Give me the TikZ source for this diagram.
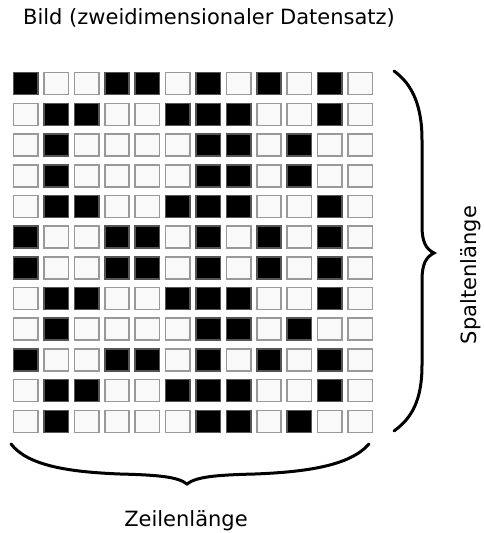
\documentclass[tikz,border=0pt]{standalone}
\usepackage{fontspec}
\setmainfont{DejaVu Sans}
\usepackage{xcolor}
\definecolor{pixeloff}{RGB}{249, 249, 249}
\definecolor{pixeloffline}{RGB}{153, 153, 153}
\definecolor{pixelonline}{RGB}{85, 85, 85}
\usepackage{tikz}
\usetikzlibrary{positioning, calc}

\begin{document}
\begin{tikzpicture}[x=1pt, y=-1pt,
    pixel/.style={rectangle, draw, line width=1.6pt, inner sep=0pt,
                  minimum width=24.4pt, minimum height=22pt, anchor=north west},
    pixel0/.style={pixel, fill=pixeloff, draw=pixeloffline},
    pixel1/.style={pixel, fill=black, draw=pixelonline},
    bracket/.style={line width=3pt, black, line cap=round},
    lbl/.style={font=\fontsize{21}{25}\selectfont, inner sep=0pt}]
    \useasboundingbox (0,0) rectangle (484,533);

    \node[lbl] (title) at (209,18) {Bild (zweidimensionaler Datensatz)};

    % 12 x 12 Bildpunkte, 1 = schwarz
    \foreach \zeile [count=\r] in {
        {1,0,0,1,1,0,1,0,1,0,1,0},
        {0,1,1,0,0,1,1,1,0,0,1,0},
        {0,1,0,0,0,0,1,1,0,1,0,0},
        {0,1,0,0,0,0,1,1,0,1,0,0},
        {0,1,1,0,0,1,1,1,0,0,1,0},
        {1,0,0,1,1,0,1,0,1,0,1,0},
        {1,0,0,1,1,0,1,0,1,0,1,0},
        {0,1,1,0,0,1,1,1,0,0,1,0},
        {0,1,0,0,0,0,1,1,0,1,0,0},
        {1,0,0,1,1,0,1,0,1,0,1,0},
        {0,1,1,0,0,1,1,1,0,0,1,0},
        {0,1,0,0,0,0,1,1,0,1,0,0}} {
        \foreach \v [count=\c] in \zeile {
            \node[pixel\v] (p-\r-\c) at ({12.8 + 30.4*(\c-1)}, {71.8 + 30.7*(\r-1)}) {};
        }
    }

    \coordinate (rtop) at (394,71);
    \coordinate (rtip) at (434,253);
    \coordinate (rbot) at (394,431);
    \draw[bracket] (rtop) .. controls (412,84) and (422,105) .. (422,140)
        -- (422,226) .. controls (422,242) and (426,249) .. (rtip)
        .. controls (426,257) and (422,264) .. (422,280)
        -- (422,365) .. controls (422,400) and (412,418) .. (rbot);

    \coordinate (btl) at (11,444);
    \coordinate (btip) at (187,484);
    \coordinate (btr) at (369,444);
    \draw[bracket] (btl) .. controls (28,466) and (70,472) .. (120,474)
        .. controls (160,475) and (178,477) .. (btip)
        .. controls (196,477) and (214,475) .. (255,474)
        .. controls (305,472) and (350,466) .. (btr);

    \node[lbl] (spalten) at (471,275) {\rotatebox{90}{Spaltenlänge}};
    \node[lbl] (zeilen) at (186,521) {Zeilenlänge};
\end{tikzpicture}
\end{document}
